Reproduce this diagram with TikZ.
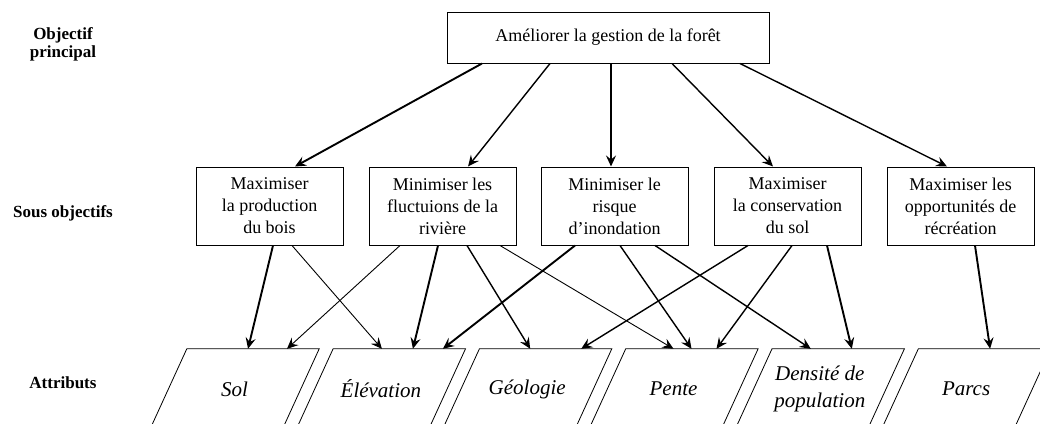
\documentclass[tikz,border=0pt]{standalone}
\usepackage{fontspec}
\setmainfont{Liberation Serif}
\usetikzlibrary{arrows.meta, positioning}

\tikzset{
  but/.style={draw, line width=1pt, align=center, inner sep=0pt,
    font=\fontsize{18}{22}\selectfont},
  objectif/.style={but, minimum width=147pt, minimum height=78pt},
  attribut/.style={minimum width=132pt, minimum height=80pt, inner sep=0pt,
    align=center, font=\fontsize{21}{27}\selectfont\itshape},
  niveau/.style={align=center, font=\fontsize{17}{18}\selectfont\bfseries},
  fin/.style={line width=0.9pt},
  moyen/.style={line width=1.4pt},
  gras/.style={line width=1.9pt}
}

\begin{document}
\begin{tikzpicture}[x=1pt, y=-1pt, ->, >={Stealth[length=11pt,width=10pt,inset=4pt]}]
    \useasboundingbox (0,0) rectangle (1040,423);
    % niveaux
    \node[niveau] (n0) at (63,44)  {Objectif\\principal};
    \node[niveau] (n1) at (63,213) {Sous objectifs};
    \node[niveau] (n2) at (63,383) {Attributs};
    % objectif principal
    \node[but, minimum width=322pt, minimum height=51pt] (g) at (608,37.5) {Améliorer la gestion de la forêt};
    % sous objectifs
    \node[objectif] (s1) at (269.5,206) {Maximiser\\la production\\du bois};
    \node[objectif] (s2) at (442.5,206) {Minimiser les\\fluctuions de la\\rivière};
    \node[objectif] (s3) at (614.5,206) {Minimiser le\\risque\\d’inondation};
    \node[objectif] (s4) at (787.5,206) {Maximiser\\la conservation\\du sol};
    \node[objectif] (s5) at (960.5,206) {Maximiser les\\opportunités de\\récréation};
    % attributs
    \node[attribut] (a1) at (234.6,389) {Sol};
    \node[attribut] (a2) at (380.9,389) {Élévation};
    \node[attribut] (a3) at (527.2,389) {Géologie};
    \node[attribut] (a4) at (673.5,389) {Pente};
    \node[attribut] (a5) at (819.8,389) {Densité de\\population};
    \node[attribut] (a6) at (966.1,389) {Parcs};
    \foreach \a in {a1,a2,a3,a4,a5,a6}
        \draw[-, line width=0.8pt] ([xshift=18.4pt]\a.north west) -- ([xshift=18.4pt]\a.north east)
            -- ([xshift=-18.4pt]\a.south east) -- ([xshift=-18.4pt]\a.south west) -- cycle;

    % principal -> sous objectifs
    \draw[gras]  ([xshift=-126pt]g.south) -- ([xshift=25.5pt]s1.north);
    \draw[moyen] ([xshift=-58pt]g.south)  -- ([xshift=25.5pt]s2.north);
    \draw[gras]  ([xshift=3pt]g.south)    -- ([xshift=-3.5pt]s3.north);
    \draw[moyen] ([xshift=64pt]g.south)   -- ([xshift=-14.5pt]s4.north);
    \draw[moyen] ([xshift=132pt]g.south)  -- ([xshift=-13.5pt]s5.north);

    % sous objectifs -> attributs
    \foreach \s/\ds/\a/\da/\w in {s1/3.5/a1/13.4/gras, s1/22.5/a2/1/fin,
        s2/-42.5/a1/52.4/fin, s2/-4.5/a2/32/gras, s2/24.5/a3/3/moyen, s2/57.5/a4/0/fin,
        s3/-39.5/a2/62/gras, s3/5.5/a4/18/moyen, s3/40.5/a5/-9/moyen,
        s4/-39.5/a3/54/moyen, s4/4.5/a4/43/moyen, s4/39.5/a5/32/gras,
        s5/14.5/a6/24/gras}
        \draw[\w] ([xshift=\ds pt]\s.south) -- ([xshift=\da pt]\a.north);
\end{tikzpicture}
\end{document}
